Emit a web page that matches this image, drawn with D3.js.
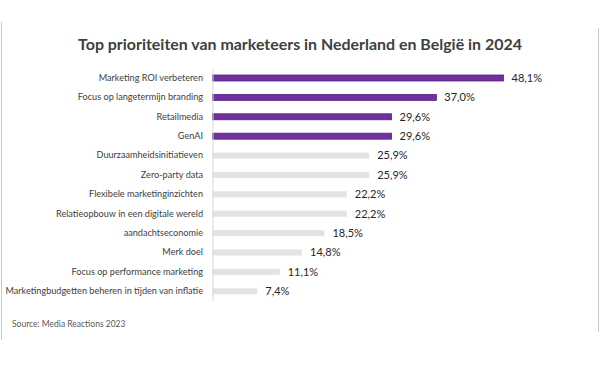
<!DOCTYPE html>
<html>
<head>
<meta charset="utf-8">
<script src="https://cdn.jsdelivr.net/npm/d3@7/dist/d3.min.js"></script>
<style>
  html, body { margin: 0; padding: 0; background: #fff; }
  svg { display: block; font-family: Lato, "Open Sans", sans-serif; }
</style>
</head>
<body>
<svg id="chart" width="600" height="365"></svg>
<script>
const title = "Top prioriteiten van marketeers in Nederland en België in 2024";
const source = "Source: Media Reactions 2023";
const categories = [
  "Marketing ROI verbeteren",
  "Focus op langetermijn branding",
  "Retailmedia",
  "GenAI",
  "Duurzaamheidsinitiatieven",
  "Zero-party data",
  "Flexibele marketinginzichten",
  "Relatieopbouw in een digitale wereld",
  "aandachtseconomie",
  "Merk doel",
  "Focus op performance marketing",
  "Marketingbudgetten beheren in tijden van inflatie"
];
const values = [48.1, 37.0, 29.6, 29.6, 25.9, 25.9, 22.2, 22.2, 18.5, 14.8, 11.1, 7.4];
const highlighted = [true, true, true, true, false, false, false, false, false, false, false, false];

const data = categories.map((c, i) => ({ cat: c, value: values[i], hl: highlighted[i] }));

const svg = d3.select("#chart");

// frame lines
svg.append("line").attr("x1", 1.5).attr("x2", 1.5).attr("y1", 22).attr("y2", 340)
  .attr("stroke", "#c8c8c8").attr("stroke-width", 1);
svg.append("line").attr("x1", 598.5).attr("x2", 598.5).attr("y1", 28).attr("y2", 332)
  .attr("stroke", "#c8c8c8").attr("stroke-width", 1);

const titleEl = svg.append("text")
  .attr("x", 300).attr("y", 50)
  .attr("text-anchor", "middle")
  .attr("font-size", 16)
  .attr("font-weight", 700)
  .attr("fill", "#404040")
  .text(title);
// fit title to reference width (~444px)
{
  const w = titleEl.node().getComputedTextLength();
  titleEl.attr("font-size", 16 * 444 / w);
}

const x = d3.scaleLinear().domain([0, 50]).range([212.5, 515]);
const y = d3.scaleBand().domain(categories).range([68.3, 301]);
const barH = 6;

const g = svg.append("g");

g.selectAll("rect.bar").data(data).enter().append("rect")
  .attr("class", "bar")
  .attr("x", x(0))
  .attr("y", d => y(d.cat) + y.bandwidth() / 2 - barH / 2)
  .attr("width", d => x(d.value) - x(0))
  .attr("height", barH)
  .attr("fill", d => d.hl ? "#7030a0" : "#e3e3e3")
  .attr("stroke", d => d.hl ? "#55237d" : "none")
  .attr("stroke-width", 0.8);

// axis
const yAxis = d3.axisLeft(y).tickSize(0).tickPadding(9.5);
const ax = svg.append("g").attr("transform", `translate(${x(0)},0)`).call(yAxis);
ax.select(".domain").attr("stroke", "#d9d9d9").attr("stroke-width", 1);
const tickTexts = ax.selectAll(".tick text")
  .attr("font-family", "Lato, 'Open Sans', sans-serif")
  .attr("font-size", 10)
  .attr("fill", "#404040");
// fit longest label to reference width (~198px)
{
  let maxW = 0;
  tickTexts.each(function () { maxW = Math.max(maxW, this.getComputedTextLength()); });
  tickTexts.attr("font-size", 10 * 198 / maxW);
}

const fmt = v => d3.format(".1f")(v).replace(".", ",") + "%";
g.selectAll("text.val").data(data).enter().append("text")
  .attr("class", "val")
  .attr("x", d => x(d.value) + 8)
  .attr("y", d => y(d.cat) + y.bandwidth() / 2)
  .attr("dy", "0.35em")
  .attr("font-size", 11)
  .attr("fill", "#262626")
  .text(d => fmt(d.value));

svg.append("text")
  .attr("x", 12).attr("y", 327)
  .attr("font-size", 8.5)
  .attr("fill", "#595959")
  .text(source);
</script>
</body>
</html>
